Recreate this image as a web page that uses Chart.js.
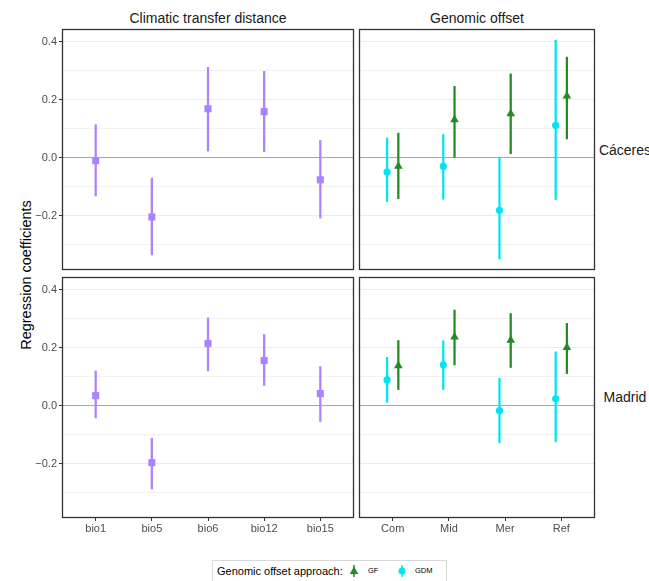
<!DOCTYPE html>
<html>
<head>
<meta charset="utf-8">
<script src="https://cdn.jsdelivr.net/npm/chart.js@4.4.1/dist/chart.umd.min.js"></script>
<style>
  body { margin: 0; width: 649px; height: 581px; overflow: hidden; background: #fff; position: relative;
         font-family: "Liberation Sans", Arial, sans-serif; }
  .panel { position: absolute; }
  .lbl { position: absolute; white-space: nowrap; color: #1a1a1a; font-size: 14px; line-height: 18px; height: 18px; }
  .center { text-align: center; }
</style>
</head>
<body>

<div class="lbl center" style="left:62px;top:9px;width:292px">Climatic transfer distance</div>
<div class="lbl center" style="left:359px;top:9px;width:236px">Genomic offset</div>
<div class="lbl center" style="left:575px;top:141px;width:100px">Cáceres</div>
<div class="lbl center" style="left:575px;top:388px;width:100px">Madrid</div>
<div class="lbl center" style="left:-74px;top:266px;width:200px;color:#000;font-size:14.5px;transform:rotate(-90deg)">Regression coefficients</div>

<div class="panel" style="left:0;top:28px"><canvas id="tl" width="356" height="244"></canvas></div>
<div class="panel" style="left:357px;top:28px"><canvas id="tr" width="240" height="244"></canvas></div>
<div class="panel" style="left:0;top:276px"><canvas id="bl" width="356" height="262"></canvas></div>
<div class="panel" style="left:357px;top:276px"><canvas id="br" width="240" height="262"></canvas></div>

<div style="position:absolute;left:212px;top:560px;width:233px;height:30px;border:1px solid #d9d9d9"></div>
<div class="lbl" style="left:217px;top:562px;font-size:11px;color:#000">Genomic offset approach:</div>
<svg style="position:absolute;left:348px;top:563px" width="12" height="16">
  <line x1="6" y1="2" x2="6" y2="14" stroke="#228B22" stroke-width="1.5"/>
  <polygon points="6,3.5 10.3,11 1.7,11" fill="#228B22"/>
</svg>
<div class="lbl" style="left:368px;top:562px;font-size:7.5px;color:#000">GF</div>
<svg style="position:absolute;left:396px;top:563px" width="12" height="16">
  <line x1="6" y1="2" x2="6" y2="14" stroke="#00E5EE" stroke-width="1.5"/>
  <circle cx="6" cy="8" r="3.5" fill="#00E5EE"/>
</svg>
<div class="lbl" style="left:415px;top:562px;font-size:7.5px;color:#000">GDM</div>

<script>
// categories
const climVars = ["bio1", "bio5", "bio6", "bio12", "bio15"];
const offsetMethods = ["Com", "Mid", "Mer", "Ref"];

// y axis
const yMin = -0.388, yMax = 0.443;
const yMajorTicks = [-0.2, 0, 0.2, 0.4];
const yMinorTicks = [-0.3, -0.1, 0.1, 0.3];

// Cáceres, climatic transfer distance
const cacClimEst = [-0.011, -0.205, 0.168, 0.158, -0.077];
const cacClimLo  = [-0.133, -0.336, 0.022, 0.020, -0.209];
const cacClimHi  = [0.113, -0.071, 0.311, 0.297, 0.059];
// Madrid, climatic transfer distance
const madClimEst = [0.034, -0.197, 0.214, 0.155, 0.041];
const madClimLo  = [-0.043, -0.288, 0.119, 0.069, -0.055];
const madClimHi  = [0.119, -0.113, 0.302, 0.245, 0.134];

// Cáceres, genomic offset
const cacGdmEst = [-0.050, -0.031, -0.182, 0.111];
const cacGdmLo  = [-0.152, -0.144, -0.350, -0.145];
const cacGdmHi  = [0.067, 0.079, 0.001, 0.405];
const cacGfEst  = [-0.030, 0.130, 0.151, 0.212];
const cacGfLo   = [-0.142, 0.001, 0.013, 0.064];
const cacGfHi   = [0.084, 0.245, 0.288, 0.346];
// Madrid, genomic offset
const madGdmEst = [0.088, 0.140, -0.018, 0.023];
const madGdmLo  = [0.011, 0.055, -0.128, -0.125];
const madGdmHi  = [0.166, 0.223, 0.094, 0.185];
const madGfEst  = [0.137, 0.236, 0.225, 0.200];
const madGfLo   = [0.055, 0.140, 0.131, 0.110];
const madGfHi   = [0.224, 0.329, 0.317, 0.283];

const PURPLE = "#AB82FF", CYAN = "#00E5EE", GREEN = "#228B22";
const FONT = "'Liberation Sans', Arial, sans-serif";

const panelBorder = {
  id: "panelBorder",
  afterDraw(chart) {
    const { ctx, chartArea: a } = chart;
    ctx.save();
    ctx.strokeStyle = "#333333";
    ctx.lineWidth = 1.3;
    ctx.strokeRect(a.left + 0.5, a.top + 0.5, a.right - a.left - 1, a.bottom - a.top - 1);
    ctx.restore();
  }
};

function fmt(v) {
  return (v < 0 ? "\u2212" : "") + Math.abs(v).toFixed(1);
}

function noPad(sc) {
  sc.paddingTop = 0; sc.paddingBottom = 0; sc.paddingLeft = 0; sc.paddingRight = 0;
}

function makePanel(id, cats, series, showY, showX, pad) {
  const datasets = [];
  series.forEach(s => {
    datasets.push({
      type: "bar",
      data: cats.map((c, i) => ({ x: i + s.dodge, y: [s.lo[i], s.hi[i]] })),
      backgroundColor: s.color,
      borderWidth: 0,
      grouped: false,
      barThickness: 1.6,
      maxBarThickness: 1.6,
      order: 1
    });
    datasets.push({
      type: "scatter",
      data: cats.map((c, i) => ({ x: i + s.dodge, y: s.est[i] })),
      pointStyle: s.shape,
      pointRadius: s.size,
      pointHoverRadius: s.size,
      backgroundColor: s.color,
      borderWidth: 0,
      order: 0
    });
  });

  const allY = yMinorTicks.concat(yMajorTicks).sort((a, b) => a - b);

  return new Chart(document.getElementById(id), {
    type: "scatter",
    data: { datasets },
    options: {
      responsive: false,
      animation: false,
      layout: { padding: pad, autoPadding: false },
      plugins: { legend: { display: false }, tooltip: { enabled: false } },
      scales: {
        x: {
          type: "linear",
          min: -0.6,
          max: cats.length - 0.4,
          offset: false,
          display: showX,
          afterBuildTicks: sc => { sc.ticks = cats.map((c, i) => ({ value: i })); },
          afterFit: sc => { sc.height = showX ? 20 : 0; noPad(sc); },
          grid: { offset: false, drawOnChartArea: false, drawTicks: true, tickLength: 3, color: "#333333" },
          border: { display: false },
          ticks: {
            autoSkip: false, maxRotation: 0, padding: 1,
            color: "#4d4d4d", font: { size: 11, family: FONT },
            callback: v => cats[v]
          }
        },
        y: {
          type: "linear",
          min: yMin,
          max: yMax,
          afterBuildTicks: sc => { sc.ticks = allY.map(v => ({ value: v })); },
          afterFit: sc => { sc.width = showY ? 62 : 0; noPad(sc); },
          grid: {
            offset: false,
            color: c => c.tick.value === 0 ? "#a6a6a6" : (yMajorTicks.includes(c.tick.value) ? "#ebebeb" : "#f2f2f2"),
            lineWidth: 1,
            drawTicks: showY,
            tickLength: 3,
            tickColor: c => yMajorTicks.includes(c.tick.value) ? "#333333" : "rgba(0,0,0,0)"
          },
          border: { display: false },
          ticks: {
            display: showY, autoSkip: false, padding: 2,
            color: "#4d4d4d", font: { size: 11, family: FONT },
            callback: v => yMajorTicks.includes(v) ? fmt(v) : ""
          }
        }
      }
    },
    plugins: [panelBorder]
  });
}

const climStyle = { color: PURPLE, shape: "rect", size: 5, dodge: 0 };

makePanel("tl", climVars,
  [Object.assign({ est: cacClimEst, lo: cacClimLo, hi: cacClimHi }, climStyle)],
  true, false, { top: 1, right: 2, bottom: 2, left: 0 });

makePanel("bl", climVars,
  [Object.assign({ est: madClimEst, lo: madClimLo, hi: madClimHi }, climStyle)],
  true, true, { top: 1, right: 2, bottom: 0, left: 0 });

makePanel("tr", offsetMethods, [
  { est: cacGdmEst, lo: cacGdmLo, hi: cacGdmHi, color: CYAN, shape: "circle", size: 3.6, dodge: -0.1 },
  { est: cacGfEst, lo: cacGfLo, hi: cacGfHi, color: GREEN, shape: "triangle", size: 5, dodge: 0.1 }
], false, false, { top: 1, right: 2, bottom: 2, left: 2 });

makePanel("br", offsetMethods, [
  { est: madGdmEst, lo: madGdmLo, hi: madGdmHi, color: CYAN, shape: "circle", size: 3.6, dodge: -0.1 },
  { est: madGfEst, lo: madGfLo, hi: madGfHi, color: GREEN, shape: "triangle", size: 5, dodge: 0.1 }
], false, true, { top: 1, right: 2, bottom: 0, left: 2 });
</script>
</body>
</html>
